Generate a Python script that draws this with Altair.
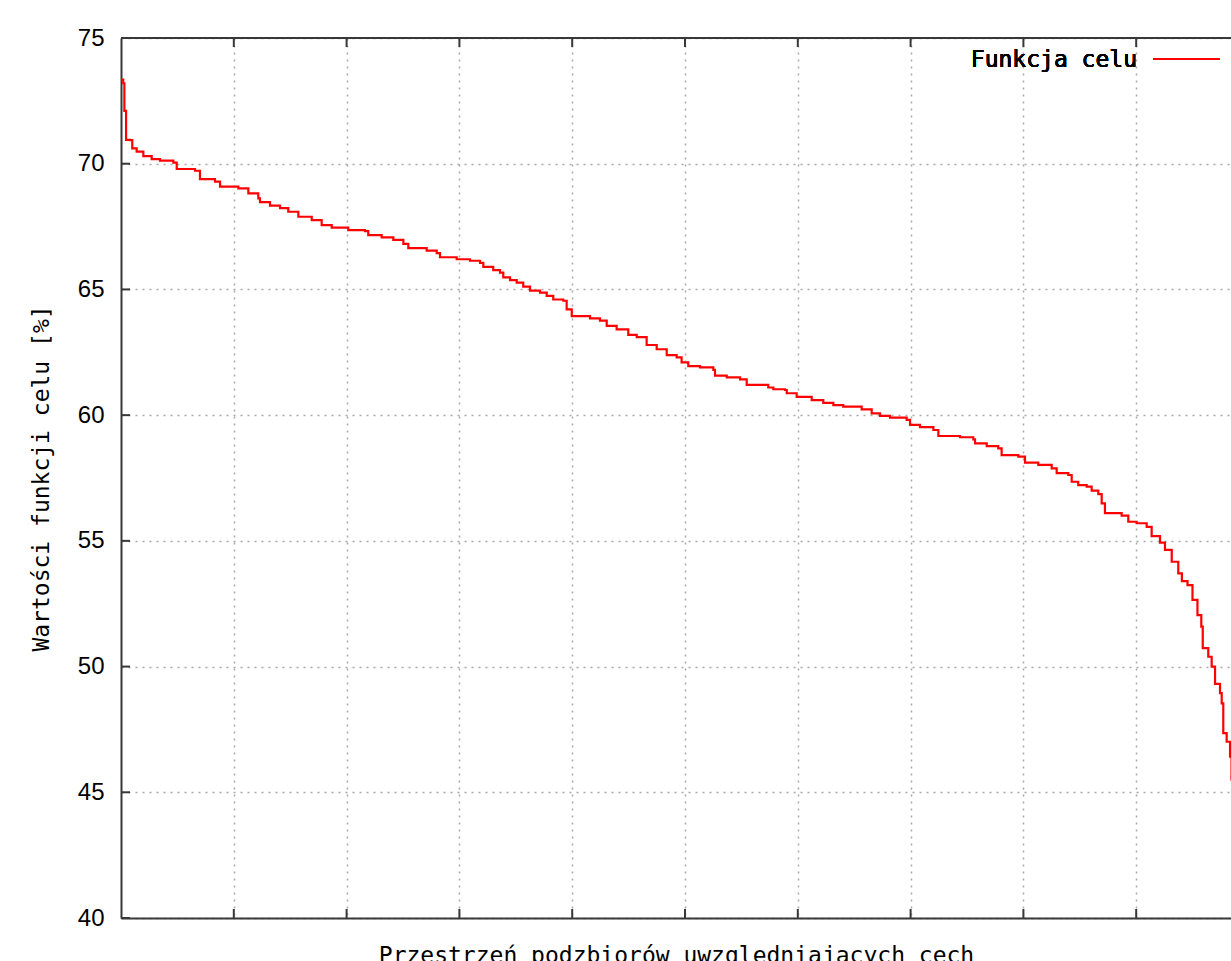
import altair as alt
import pandas as pd

# Position along the (unlabelled) x axis, in 0..1000 units (grid every 100)
idx = [0, 2, 3, 4.5, 8, 10, 13.9, 19.8, 27.2, 34.6, 46.4, 49.4, 65.6, 70, 83.3, 87.8, 104,
       112.9, 121.7, 123.2, 132.1, 141, 148.3, 157.2, 169.1, 177.9, 186.8, 201.5, 216.3,
       219.2, 231.1, 241.4, 250.3, 254.7, 271, 279.9, 282.8, 297.6, 309.4, 318.3, 321.2,
       330, 336, 338.9, 344.9, 350.8, 356.6, 362.6, 371.5, 377.4, 383.2, 392.1, 395.1,
       399.6, 415.8, 424.6, 430.6, 439.4, 449.7, 457.2, 466, 474.9, 483.8, 492.6, 497,
       502.9, 513.3, 525.1, 526.6, 537, 548.8, 554.7, 573.8, 578.3, 588.7, 590.2, 599,
       612.3, 622.6, 631.5, 640.3, 656.6, 665.5, 672.9, 681.7, 696.5, 699.5, 708.3, 720.2,
       724.6, 743.8, 755.6, 757.1, 767.5, 777.7, 780.7, 795.5, 801.4, 813.2, 825.1, 829.5,
       839.8, 842.8, 848.6, 856.1, 860.5, 866.4, 869.4, 872.3, 887.1, 893, 900.4, 909.3,
       913.7, 921.1, 925.5, 931.5, 937.3, 940.5, 945.5, 949.9, 954.3, 957.7, 959, 963.9,
       966.9, 969.9, 974.3, 975.8, 977.2, 980.2, 983.2, 984.5, 990, 1000]
val = [73.35, 73.2, 72.1, 70.95, 70.94, 70.61, 70.48, 70.3, 70.18, 70.12, 70.04, 69.79,
       69.72, 69.39, 69.29, 69.09, 69.02, 68.82, 68.62, 68.47, 68.33, 68.23, 68.09, 67.89,
       67.76, 67.56, 67.46, 67.36, 67.32, 67.16, 67.07, 66.97, 66.81, 66.64, 66.54, 66.44,
       66.28, 66.2, 66.14, 66.06, 65.9, 65.77, 65.67, 65.48, 65.37, 65.27, 65.11, 64.95,
       64.87, 64.74, 64.6, 64.55, 64.21, 63.94, 63.85, 63.76, 63.55, 63.41, 63.19, 63.1,
       62.79, 62.62, 62.39, 62.3, 62.1, 61.95, 61.9, 61.8, 61.57, 61.5, 61.42, 61.2, 61.1,
       61.03, 61.0, 60.87, 60.73, 60.6, 60.49, 60.4, 60.34, 60.23, 60.07, 59.97, 59.9,
       59.81, 59.61, 59.52, 59.41, 59.17, 59.12, 59.04, 58.88, 58.77, 58.68, 58.41, 58.35,
       58.11, 58.02, 57.88, 57.69, 57.62, 57.35, 57.22, 57.16, 57.0, 56.86, 56.49, 56.1,
       56.0, 55.76, 55.7, 55.56, 55.19, 54.93, 54.64, 54.17, 53.71, 53.4, 53.24, 52.65,
       52.05, 51.59, 50.73, 50.39, 50.0, 49.31, 48.94, 48.54, 47.35, 47.01, 46.42, 45.5,
       44.0, 42.5]

y_ticks = [40, 45, 50, 55, 60, 65, 70, 75]
x_ticks = [100, 200, 300, 400, 500, 600, 700, 800, 900]

y_title = "Wartości funkcji celu [%]"
x_title = "Przestrzeń podzbiorów uwzględniających cech"
legend_label = "Funkcja celu"

W, H = 1110, 880
XMAX = 1000 * W / 1128

df = pd.DataFrame({"x": idx, "y": val})
ydf = pd.DataFrame({"v": y_ticks})
xdf = pd.DataFrame({"v": x_ticks})

xscale = alt.Scale(domain=[0, XMAX], nice=False, zero=False)
yscale = alt.Scale(domain=[40, 75], nice=False, zero=False)

MONO = "DejaVu Sans Mono"

line = alt.Chart(df).mark_line(color="#ff0000", strokeWidth=2.2, clip=True,
                               interpolate="step-after").encode(
    x=alt.X("x:Q", scale=xscale,
            axis=alt.Axis(values=x_ticks, labels=False, ticks=False, grid=True,
                          gridDash=[2, 5], gridColor="#a8a8a8", gridWidth=1.5,
                          domain=True, domainColor="#383838", domainWidth=2,
                          title=x_title, titleFont=MONO, titleFontSize=23,
                          titleFontWeight="normal", titleColor="#000",
                          titlePadding=26)),
    y=alt.Y("y:Q", scale=yscale,
            axis=alt.Axis(values=y_ticks, ticks=False, grid=True,
                          gridDash=[2, 5], gridColor="#a8a8a8", gridWidth=1.5,
                          domain=True, domainColor="#383838", domainWidth=2,
                          labelFont="Liberation Sans", labelFontSize=24,
                          labelColor="#000", labelPadding=17,
                          title=y_title, titleFont=MONO, titleFontSize=23,
                          titleFontWeight="normal", titleColor="#000",
                          titlePadding=24)),
)

ytick_marks = alt.Chart(ydf).mark_rule(color="#383838", strokeWidth=2).encode(
    y=alt.Y("v:Q", scale=yscale), x=alt.value(0), x2=alt.value(9))
xtick_bot = alt.Chart(xdf).mark_rule(color="#383838", strokeWidth=2).encode(
    x=alt.X("v:Q", scale=xscale), y=alt.value(H), y2=alt.value(H - 9))
xtick_top = alt.Chart(xdf).mark_rule(color="#383838", strokeWidth=2).encode(
    x=alt.X("v:Q", scale=xscale), y=alt.value(0), y2=alt.value(9))
top_border = alt.Chart(ydf).mark_rule(color="#383838", strokeWidth=2).encode(
    x=alt.value(0), x2=alt.value(W), y=alt.value(0))

leg_text = alt.Chart(ydf).mark_text(font=MONO, fontSize=23, align="right",
                                    baseline="middle", color="#000").encode(
    x=alt.value(1016), y=alt.value(22), text=alt.value(legend_label))
leg_line = alt.Chart(ydf).mark_rule(color="#ff0000", strokeWidth=2).encode(
    x=alt.value(1032), x2=alt.value(1099), y=alt.value(21))

chart = alt.layer(line, ytick_marks, xtick_bot, xtick_top, top_border, leg_text, leg_line).properties(
    width=W, height=H,
    autosize=alt.AutoSizeParams(type="none"),
    padding={"left": 121, "top": 38, "right": 0, "bottom": 43},
).configure_view(stroke=None).configure(background="white")

chart.save("out.html", embed_options={"renderer": "svg", "actions": False})
